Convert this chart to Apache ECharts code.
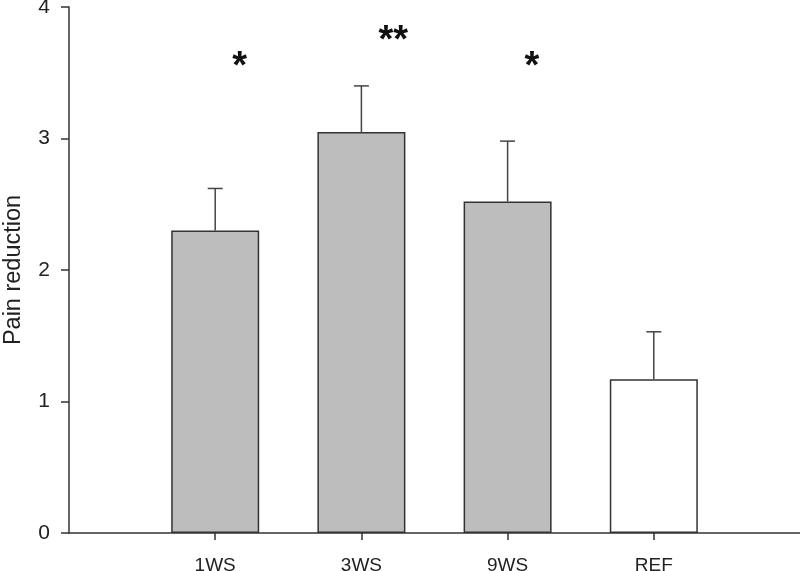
<!DOCTYPE html>
<html>
<head>
<meta charset="utf-8">
<script src="https://cdn.jsdelivr.net/npm/echarts@6/dist/echarts.min.js"></script>
<style>html,body{margin:0;padding:0;background:#fff}#c{width:800px;height:571px}</style>
</head>
<body>
<div id="c"></div>
<script>
const categories = ['1WS', '3WS', '9WS', 'REF'];
const means = [2.30, 3.05, 2.52, 1.17];
const errTops = [2.62, 3.40, 2.98, 1.53];
const fills = ['#bdbdbd', '#bdbdbd', '#bdbdbd', '#ffffff'];
const sigMarks = ['*', '**', '*', ''];
const sigY = [3.54, 3.74, 3.54, null];
const yTicks = [0, 1, 2, 3, 4];

const axisCats = [''].concat(categories).concat(['']);
const sigData = categories.map((c, i) => [i + 1, sigY[i], sigMarks[i]]).filter(d => d[1] != null);
const FONT = 'Liberation Sans';
const chart = echarts.init(document.getElementById('c'));

chart.setOption({
  animation: false,
  grid: { left: 69, right: 0, top: 7, bottom: 38, containLabel: false, outerBoundsMode: 'none' },
  xAxis: {
    type: 'category',
    data: axisCats,
    boundaryGap: false,
    axisLine: { lineStyle: { color: '#333', width: 1.5 } },
    axisTick: { show: true, length: 7, interval: (i) => i > 0 && i < axisCats.length - 1, lineStyle: { color: '#333', width: 1.5 } },
    axisLabel: { interval: 0, color: '#222', fontFamily: FONT, fontSize: 19, margin: 23 },
    splitLine: { show: false }
  },
  yAxis: {
    type: 'value',
    min: yTicks[0], max: yTicks[yTicks.length - 1], interval: 1,
    name: 'Pain reduction',
    nameLocation: 'middle',
    nameGap: 43,
    nameTextStyle: { color: '#222', fontFamily: FONT, fontSize: 23.5 },
    axisLine: { show: true, lineStyle: { color: '#333', width: 1.5 } },
    axisTick: { show: true, length: 8, lineStyle: { color: '#333', width: 1.5 } },
    axisLabel: { color: '#222', fontFamily: FONT, fontSize: 21, margin: 19 },
    splitLine: { show: false }
  },
  series: [
    {
      type: 'bar',
      barWidth: 88,
      data: ['-'].concat(means.map((v, i) => ({ value: v, itemStyle: { color: fills[i] } }))).concat(['-']),
      itemStyle: { borderColor: '#333', borderWidth: 1.5 },
      z: 2
    },
    {
      type: 'custom',
      z: 3,
      data: categories.map((c, i) => [i + 1, means[i], errTops[i]]),
      renderItem: function (params, api) {
        const x = api.value(0);
        const base = api.coord([x, api.value(1)]);
        const top = api.coord([x, api.value(2)]);
        const style = { stroke: '#444', lineWidth: 1.5 };
        return {
          type: 'group',
          children: [
            { type: 'line', shape: { x1: base[0], y1: base[1], x2: top[0], y2: top[1] }, style },
            { type: 'line', shape: { x1: top[0] - 7.5, y1: top[1], x2: top[0] + 7.5, y2: top[1] }, style }
          ]
        };
      }
    },
    {
      type: 'custom',
      z: 4,
      data: sigData,
      renderItem: function (params, api) {
        const p = api.coord([api.value(0), api.value(1)]);
        return {
          type: 'text',
          x: p[0] + 17, y: p[1],
          style: { text: sigData[params.dataIndex][2], fill: '#111', font: 'bold 38px "Liberation Sans"', textAlign: 'left', textVerticalAlign: 'middle' }
        };
      }
    }
  ]
});
</script>
</body>
</html>
